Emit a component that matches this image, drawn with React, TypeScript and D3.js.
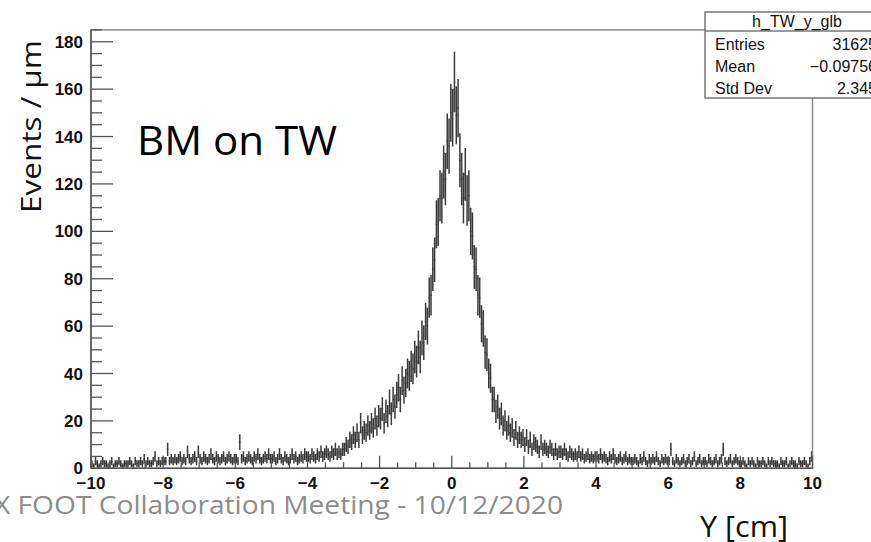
import * as d3 from "d3";

// histogram h_TW_y_glb, 0.05 cm bins from -10 to 10 (20 bins per row = 1 cm)
const xMin = -10;
const xMax = 10;
const binWidth = 0.05;
const counts = [
  2, 1, 3, 2, 1, 2, 3, 2, 2, 1, 2, 3, 1, 2, 2, 3, 2, 1, 2, 2, // -10..-9
  2, 3, 2, 1, 3, 2, 2, 3, 2, 4, 2, 3, 2, 2, 3, 5, 2, 3, 2, 3, // -9..-8
  3, 3, 8, 3, 4, 3, 4, 3, 4, 5, 3, 4, 3, 7, 4, 3, 4, 5, 3, 7, // -8..-7
  4, 3, 5, 4, 3, 4, 6, 4, 3, 5, 4, 3, 4, 5, 3, 4, 5, 4, 3, 4, // -7..-6
  4, 3, 11, 4, 5, 3, 4, 5, 4, 3, 5, 4, 6, 4, 3, 4, 5, 4, 6, 4, // -6..-5
  4, 5, 3, 4, 6, 4, 3, 5, 4, 3, 4, 6, 4, 5, 3, 4, 5, 4, 6, 5, // -5..-4
  5, 4, 6, 5, 4, 6, 5, 7, 5, 6, 7, 6, 5, 7, 6, 8, 6, 7, 6, 8, // -4..-3
  8, 10, 9, 12, 11, 14, 12, 15, 12, 19, 14, 16, 15, 18, 16, 19, 17, 21, 18, 22, // -3..-2
  21, 25, 19, 24, 22, 28, 23, 29, 26, 31, 34, 29, 37, 33, 36, 40, 39, 43, 42, 47, // -2..-1
  45, 51, 47, 55, 53, 62, 60, 72, 73, 84, 88, 103, 104, 115, 114, 125, 122, 138, 136, 150, // -1..0
  148, 163, 149, 152, 130, 122, 114, 124, 113, 115, 100, 98, 85, 84, 73, 72, 61, 59, 49, 48, // 0..1
  40, 38, 29, 29, 24, 26, 21, 23, 18, 20, 16, 18, 15, 17, 13, 16, 12, 14, 12, 13, // 1..2
  10, 13, 9, 12, 8, 11, 10, 9, 7, 11, 8, 9, 8, 7, 9, 8, 6, 8, 6, 7, // 2..3
  7, 6, 8, 6, 5, 7, 6, 5, 6, 5, 7, 5, 6, 4, 5, 6, 4, 5, 4, 5, // 3..4
  5, 4, 6, 4, 5, 4, 3, 5, 4, 6, 4, 3, 4, 5, 3, 4, 5, 3, 4, 3, // 4..5
  3, 4, 3, 2, 4, 3, 5, 3, 2, 4, 3, 4, 3, 5, 3, 2, 4, 3, 4, 3, // 5..6
  3, 8, 3, 2, 4, 3, 2, 3, 4, 2, 3, 4, 2, 3, 5, 2, 3, 4, 2, 3, // 6..7
  3, 2, 4, 3, 2, 3, 4, 2, 3, 4, 8, 3, 2, 3, 4, 2, 3, 4, 3, 2, // 7..8
  2, 3, 2, 1, 3, 2, 3, 2, 1, 3, 2, 2, 3, 2, 1, 3, 2, 3, 2, 2, // 8..9
  2, 1, 3, 2, 2, 3, 1, 2, 3, 2, 2, 1, 3, 2, 2, 3, 2, 1, 3, 5, // 9..10
];

const xTicks = [-10, -8, -6, -4, -2, 0, 2, 4, 6, 8, 10];
const yTicks = [0, 20, 40, 60, 80, 100, 120, 140, 160, 180];
const statsTitle = "h_TW_y_glb";
const statsNames = ["Entries", "Mean", "Std Dev"];
const statsValues = ["31625", "\u22120.09756", "2.345"];

const fmt = (v: number) => (v < 0 ? "\u2212" + Math.abs(v) : String(v));

export default function App() {
  const x = d3.scaleLinear().domain([xMin, xMax]).range([91, 812.5]);
  const y = d3.scaleLinear().domain([0, 185]).range([468.3, 29.9]);

  // ROOT "E" style: horizontal bin line + poisson error bar (sqrt n)
  const p = d3.path();
  counts.forEach((n, i) => {
    const lo = xMin + i * binWidth;
    const err = Math.sqrt(n);
    p.moveTo(x(lo), y(n));
    p.lineTo(x(lo + binWidth), y(n));
    p.moveTo(x(lo + binWidth / 2), y(n + err));
    p.lineTo(x(lo + binWidth / 2), y(Math.max(0, n - err)));
  });

  const xMinor = d3.range(xMin, xMax + 0.001, 0.5);
  const yMinor = d3.range(0, 185.1, 5);
  const x0 = x(xMin);
  const y0 = y(0);
  const tickFont = "'Liberation Sans', Arial, sans-serif";
  const slideFont = "'Open Sans', sans-serif";

  return (
    <svg width={871} height={542} style={{ position: "absolute", left: 0, top: 0, background: "#fff" }}>
      <path d={p.toString()} fill="none" stroke="#3a3a3a" strokeWidth={1.5} />

      {/* frame */}
      <rect x={x0} y={y(185)} width={x(xMax) - x0} height={y0 - y(185)} fill="none" stroke="#8a8a8a" strokeWidth={1.5} />
      <line x1={x0} x2={x0} y1={y(185)} y2={y0} stroke="#555" strokeWidth={1.5} />
      <line x1={x0} x2={x(xMax)} y1={y0} y2={y0} stroke="#555" strokeWidth={1.5} />

      {/* x ticks */}
      {xMinor.map((t) => {
        const major = Math.abs(t % 2) < 1e-6;
        return <line key={"xt" + t} x1={x(t)} x2={x(t)} y1={y0} y2={y0 - (major ? 12.5 : 6)} stroke="#555" strokeWidth={1.3} />;
      })}
      {xTicks.map((t) => (
        <text key={"xl" + t} x={x(t)} y={489} textAnchor="middle" fontFamily={tickFont} fontWeight="bold" fontSize={17} fill="#111">
          {fmt(t)}
        </text>
      ))}

      {/* y ticks */}
      {yMinor.map((t) => {
        const major = t % 20 === 0;
        return <line key={"yt" + t} x1={x0} x2={x0 + (major ? 22 : 11)} y1={y(t)} y2={y(t)} stroke="#555" strokeWidth={1.3} />;
      })}
      {yTicks.map((t) => (
        <text key={"yl" + t} x={83} y={y(t) + 6} textAnchor="end" fontFamily={tickFont} fontWeight="bold" fontSize={17} fill="#111">
          {t}
        </text>
      ))}

      {/* stats box */}
      <rect x={705} y={12} width={185} height={86} fill="#fff" stroke="#777" strokeWidth={1.5} />
      <line x1={705} x2={890} y1={31} y2={31} stroke="#777" strokeWidth={1.5} />
      <text x={797} y={27} textAnchor="middle" fontFamily={tickFont} fontSize={16} fill="#111">
        {statsTitle}
      </text>
      {statsNames.map((s, i) => (
        <g key={s}>
          <text x={715} y={50 + i * 22} fontFamily={tickFont} fontSize={16} fill="#111">
            {s}
          </text>
          <text x={877} y={50 + i * 22} textAnchor="end" fontFamily={tickFont} fontSize={16} fill="#111">
            {statsValues[i]}
          </text>
        </g>
      ))}

      {/* slide annotations */}
      <text transform="translate(41,126.5) rotate(-90)" textAnchor="middle" fontFamily={slideFont} fontSize={28}
        textLength={173} lengthAdjust="spacingAndGlyphs" fill="#111">
        Events / µm
      </text>
      <text x={137} y={155} fontFamily={slideFont} fontSize={41} textLength={200} lengthAdjust="spacingAndGlyphs" fill="#000">
        BM on TW
      </text>
      <text x={700} y={537} fontFamily={slideFont} fontSize={30} textLength={88} lengthAdjust="spacingAndGlyphs" fill="#111">
        Y [cm]
      </text>
      <text x={-6} y={514} fontFamily={slideFont} fontSize={26} textLength={569} lengthAdjust="spacingAndGlyphs" fill="#8c8c8c">
        X FOOT Collaboration Meeting - 10/12/2020
      </text>
    </svg>
  );
}
